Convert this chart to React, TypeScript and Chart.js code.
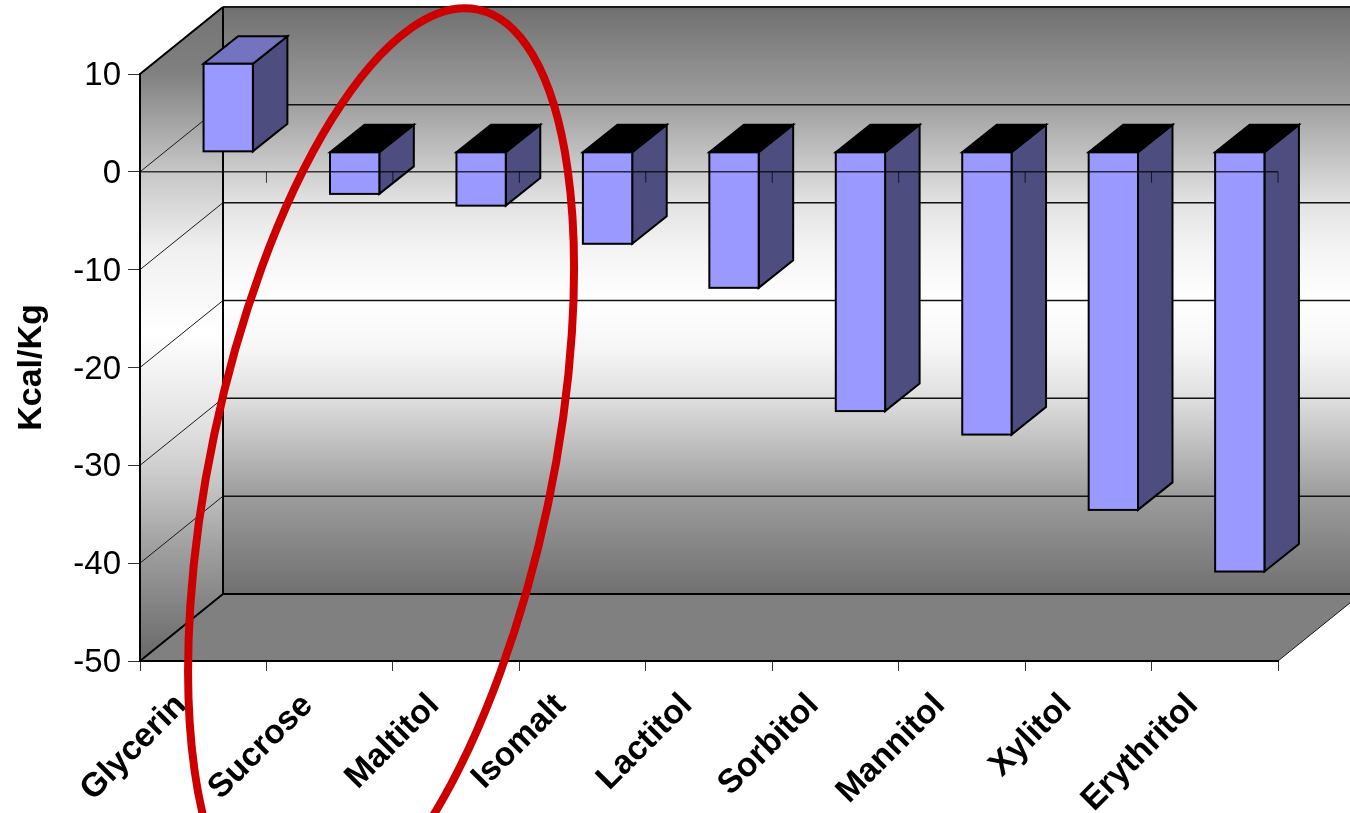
import React, { useEffect, useRef } from "react";
import { Chart, registerables } from "chart.js";

Chart.register(...registerables);

const categories = ["Glycerin", "Sucrose", "Maltitol", "Isomalt", "Lactitol", "Sorbitol", "Mannitol", "Xylitol", "Erythritol"];
const heatOfSolution = [9, -4.3, -5.5, -9.4, -13.9, -26.5, -28.9, -36.6, -42.9];

const FONT = "'Liberation Sans', Arial, sans-serif";

// Projection of the chart box: full depth of the walls, and where the bars sit inside it.
const DEPTH_X = 83;
const DEPTH_Y = -67;
const BAR_OFFSET_X = 25;
const BAR_OFFSET_Y = -20;
const BAR_DEPTH_X = 34.5;
const BAR_DEPTH_Y = -27.5;

const BACK_WALL_STOPS: [number, string][] = [
  [0, "#707070"], [0.167, "#a0a0a0"], [0.332, "#e2e2e2"], [0.414, "#f4f4f4"], [0.5, "#ffffff"],
  [0.584, "#f6f6f6"], [0.668, "#dedede"], [0.833, "#9c9c9c"], [1, "#707070"],
];
const SIDE_WALL_STOPS: [number, string][] = [
  [0, "#747474"], [0.1, "#808080"], [0.25, "#c6c6c6"], [0.37, "#f0f0f0"], [0.5, "#ffffff"],
  [0.647, "#e0e0e0"], [0.723, "#c8c8c8"], [0.826, "#a0a0a0"], [1, "#686868"],
];

function wallGradient(ctx: CanvasRenderingContext2D, top: number, bottom: number, stops: [number, string][]) {
  const g = ctx.createLinearGradient(0, top, 0, bottom);
  stops.forEach(([at, color]) => g.addColorStop(at, color));
  return g;
}

function poly(ctx: CanvasRenderingContext2D, pts: number[][]) {
  ctx.beginPath();
  pts.forEach(([x, y], i) => (i ? ctx.lineTo(x, y) : ctx.moveTo(x, y)));
  ctx.closePath();
}

function segment(ctx: CanvasRenderingContext2D, x0: number, y0: number, x1: number, y1: number, w: number, color: string) {
  ctx.lineWidth = w;
  ctx.strokeStyle = color;
  ctx.beginPath();
  ctx.moveTo(x0, y0);
  ctx.lineTo(x1, y1);
  ctx.stroke();
}

// Back wall, side wall, floor and their gridlines, all laid out from the axes.
const boxPlugin = {
  id: "box3d",
  beforeDraw(chart: any) {
    const { ctx, chartArea: a, scales } = chart;
    const y = scales.y;
    const l = a.left, r = a.right, t = a.top, b = a.bottom;
    ctx.save();
    ctx.fillStyle = wallGradient(ctx, t + DEPTH_Y, b + DEPTH_Y, BACK_WALL_STOPS);
    ctx.fillRect(l + DEPTH_X, t + DEPTH_Y, r - l, b - t);

    poly(ctx, [[l, t], [l + DEPTH_X, t + DEPTH_Y], [l + DEPTH_X, b + DEPTH_Y], [l, b]]);
    ctx.fillStyle = wallGradient(ctx, t + DEPTH_Y, b, SIDE_WALL_STOPS);
    ctx.fill();

    poly(ctx, [[l, b], [r, b], [r + DEPTH_X, b + DEPTH_Y], [l + DEPTH_X, b + DEPTH_Y]]);
    ctx.fillStyle = "#808080";
    ctx.fill();

    y.ticks.forEach((tick: any) => {
      const py = y.getPixelForValue(tick.value);
      segment(ctx, l, py, l + DEPTH_X, py + DEPTH_Y, 1, "#1a1a1a");
      segment(ctx, l + DEPTH_X, py + DEPTH_Y, r + DEPTH_X, py + DEPTH_Y, 1.5, "#111111");
    });

    segment(ctx, l, t, l + DEPTH_X, t + DEPTH_Y, 2, "#000000");
    segment(ctx, l + DEPTH_X, t + DEPTH_Y, r + DEPTH_X, t + DEPTH_Y, 2, "#1a1a1a");
    segment(ctx, l + DEPTH_X, t + DEPTH_Y, l + DEPTH_X, b + DEPTH_Y, 2, "#000000");
    segment(ctx, l + DEPTH_X, b + DEPTH_Y, r + DEPTH_X, b + DEPTH_Y, 2, "#000000");
    segment(ctx, l, b, l + DEPTH_X, b + DEPTH_Y, 2, "#000000");
    segment(ctx, r, b, r + DEPTH_X, b + DEPTH_Y, 1, "#1a1a1a");
    ctx.restore();
  },
  // Each bar's front face comes from the library; top and side faces go behind it.
  beforeDatasetDraw(chart: any, args: any) {
    const { ctx } = chart;
    ctx.save();
    ctx.translate(BAR_OFFSET_X, BAR_OFFSET_Y);
    ctx.lineJoin = "miter";
    args.meta.data.forEach((bar: any) => {
      const { x, y, base, width } = bar.getProps(["x", "y", "base", "width"], true);
      const hw = width / 2;
      const top = Math.min(y, base);
      const bottom = Math.max(y, base);
      const right = x + hw;
      const positive = y < base;
      poly(ctx, [[right, top], [right + BAR_DEPTH_X, top + BAR_DEPTH_Y], [right + BAR_DEPTH_X, bottom + BAR_DEPTH_Y], [right, bottom]]);
      ctx.fillStyle = "#4d4d80";
      ctx.fill();
      ctx.lineWidth = 2;
      ctx.strokeStyle = "#000000";
      ctx.stroke();
      poly(ctx, [[x - hw, top], [right, top], [right + BAR_DEPTH_X, top + BAR_DEPTH_Y], [x - hw + BAR_DEPTH_X, top + BAR_DEPTH_Y]]);
      ctx.fillStyle = positive ? "#7373bf" : "#000000";
      ctx.fill();
      ctx.stroke();
    });
  },
  afterDatasetDraw(chart: any, args: any) {
    const { ctx } = chart;
    // Outline centred on the front face's edge.
    ctx.lineWidth = 2;
    ctx.strokeStyle = "#000000";
    args.meta.data.forEach((bar: any) => {
      const { x, y, base, width } = bar.getProps(["x", "y", "base", "width"], true);
      ctx.strokeRect(x - width / 2, Math.min(y, base), width, Math.abs(base - y));
    });
    ctx.restore();
  },
  // The zero plane's front edge and its ticks run across the bars.
  afterDatasetsDraw(chart: any) {
    const { ctx, chartArea: a, scales } = chart;
    const zero = scales.y.getPixelForValue(0);
    ctx.save();
    ctx.globalAlpha = 0.75;
    segment(ctx, a.left, zero, a.right, zero, 1.5, "#000000");
    const band = (a.right - a.left) / categories.length;
    categories.forEach((_, i) => {
      const px = a.left + band * (i + 1);
      segment(ctx, px, zero, px, zero + 11, 1, "#000000");
    });
    ctx.restore();
  },
  // Highlight ring around the sucrose and maltitol group.
  afterDraw(chart: any) {
    const { ctx, scales } = chart;
    const cx = scales.x.getPixelForValue(1) + 51.4;
    const cy = scales.y.getPixelForValue(-30.45);
    ctx.save();
    ctx.beginPath();
    ctx.ellipse(cx, cy, 170.5, 470.3, (11.9 * Math.PI) / 180, 0, Math.PI * 2);
    ctx.lineWidth = 8;
    ctx.strokeStyle = "#cc0000";
    ctx.stroke();
    ctx.restore();
  },
};

export default function App() {
  const ref = useRef<HTMLCanvasElement>(null);
  useEffect(() => {
    const chart = new Chart(ref.current!, {
      type: "bar",
      data: {
        labels: categories,
        datasets: [
          {
            data: heatOfSolution,
            backgroundColor: "#9999ff",
            borderColor: "#000000",
            borderWidth: 0,
            barPercentage: 0.39,
            categoryPercentage: 1,
            clip: false,
          } as any,
        ],
      },
      options: {
        responsive: false,
        animation: false,
        layout: { padding: { left: 0, right: 72, top: 74, bottom: 0 } },
        plugins: { legend: { display: false }, tooltip: { enabled: false } },
        scales: {
          x: {
            offset: true,
            afterFit(scale: any) {
              scale.height = 152;
            },
            grid: { drawOnChartArea: false, drawTicks: true, tickLength: 10, offset: true, color: "#333333", lineWidth: 1 },
            border: { display: true, color: "#000000", width: 2 },
            ticks: {
              autoSkip: false,
              maxRotation: 45,
              minRotation: 45,
              padding: 15,
              labelOffset: -22,
              color: "#000000",
              font: { family: FONT, size: 33.5, weight: "bold" },
            },
          },
          y: {
            min: -50,
            max: 10,
            afterFit(scale: any) {
              scale.width = 140;
            },
            grid: { drawOnChartArea: false, tickLength: 12, color: "#333333", lineWidth: 1 },
            border: { display: true, color: "#000000", width: 2 },
            ticks: { stepSize: 10, padding: 7, labelOffset: 2, color: "#000000", font: { family: FONT, size: 33 } },
            title: {
              display: true,
              text: "Kcal/Kg",
              color: "#000000",
              padding: { top: 11, bottom: 0 },
              font: { family: FONT, size: 34, weight: "bold" },
            },
          },
        },
      } as any,
      plugins: [boxPlugin],
    });
    return () => chart.destroy();
  }, []);
  return <canvas ref={ref} width={1350} height={813} style={{ position: "fixed", left: 0, top: 0, display: "block" }} />;
}
